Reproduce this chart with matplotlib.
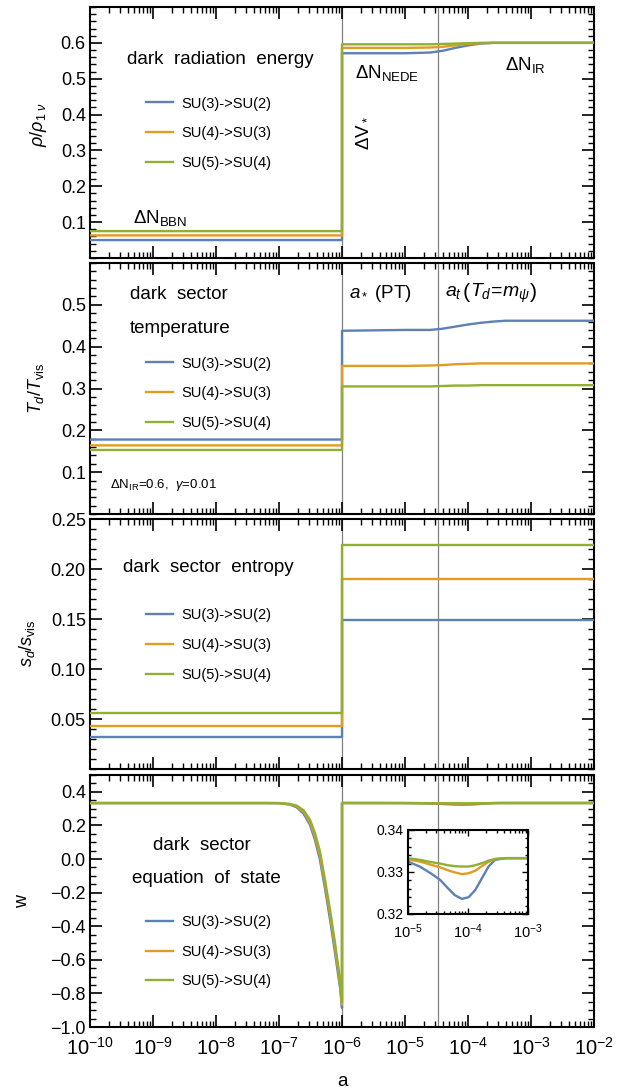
import numpy as np
import matplotlib
matplotlib.use('Agg')
import matplotlib.pyplot as plt
from matplotlib.ticker import FixedLocator, MultipleLocator, LogLocator, NullFormatter, FuncFormatter

plt.rcParams['font.family'] = ['Liberation Sans', 'DejaVu Sans']
plt.rcParams['mathtext.fontset'] = 'custom'
plt.rcParams['mathtext.rm'] = 'Liberation Sans'
plt.rcParams['mathtext.it'] = 'Liberation Sans:italic'
plt.rcParams['mathtext.bf'] = 'Liberation Sans:bold'

#series labels and colours
labels = ['SU(3)->SU(2)', 'SU(4)->SU(3)', 'SU(5)->SU(4)']
colors = ['#5e81b5', '#e19c24', '#8fb032']

#marker lines: phase transition and a_t
a_star = 1e-6
a_t = 3.4e-5

#panel 1: dark radiation energy (log10 a, rho/rho_1nu)
rho_exp = [-10, -6, -6, -5, -4.6, -4.4, -4.2, -4.0, -3.8, -3.6, -3.4, -2]
rho_blue = [0.050, 0.050, 0.571, 0.571, 0.573, 0.578, 0.586, 0.593, 0.598, 0.600, 0.600, 0.600]
rho_orange = [0.063, 0.063, 0.586, 0.586, 0.587, 0.589, 0.593, 0.597, 0.599, 0.600, 0.600, 0.600]
rho_green = [0.075, 0.075, 0.596, 0.596, 0.596, 0.597, 0.598, 0.599, 0.600, 0.600, 0.600, 0.600]

#panel 2: temperature ratio
T_exp = [-10, -6, -6, -5, -4.6, -4.4, -4.2, -4.0, -3.8, -3.6, -3.4, -2]
T_blue = [0.178, 0.178, 0.438, 0.440, 0.440, 0.443, 0.448, 0.453, 0.457, 0.460, 0.462, 0.462]
T_orange = [0.164, 0.164, 0.354, 0.354, 0.355, 0.356, 0.358, 0.359, 0.360, 0.360, 0.360, 0.360]
T_green = [0.153, 0.153, 0.305, 0.305, 0.305, 0.306, 0.307, 0.307, 0.308, 0.308, 0.308, 0.308]

#panel 3: entropy ratio
s_exp = [-10, -6, -6, -2]
s_blue = [0.0318, 0.0318, 0.149, 0.149]
s_orange = [0.0433, 0.0433, 0.190, 0.190]
s_green = [0.0557, 0.0557, 0.224, 0.224]

#panel 4: equation of state (drop before the PT, small dip after)
w_exp = [-10, -7.3, -7.0, -6.83, -6.72, -6.61, -6.51, -6.43, -6.35, -6.27, -6.19, -6.11, -6.03, -6.0,
         -6.0, -5.5, -5.0, -4.8, -4.63, -4.46, -4.33, -4.22, -4.10, -3.99, -3.88, -3.77, -3.66, -3.55,
         -3.36, -3.0, -2.0]
w_blue = [0.333, 0.333, 0.332, 0.324, 0.308, 0.270, 0.205, 0.115, -0.005, -0.175, -0.360, -0.560, -0.770, -0.887,
          0.3333, 0.3331, 0.3325, 0.3313, 0.3298, 0.3281, 0.3261, 0.3245, 0.3236, 0.3240, 0.3257, 0.3285,
          0.3313, 0.3329, 0.3333, 0.3333, 0.3333]
w_orange = [0.333, 0.333, 0.333, 0.326, 0.313, 0.280, 0.220, 0.135, 0.020, -0.150, -0.330, -0.530, -0.745, -0.865,
            0.3333, 0.3333, 0.3330, 0.3325, 0.3318, 0.3311, 0.3304, 0.3299, 0.3295, 0.3297, 0.3303, 0.3314,
            0.3324, 0.3331, 0.3333, 0.3333, 0.3333]
w_green = [0.333, 0.333, 0.333, 0.328, 0.318, 0.290, 0.235, 0.155, 0.045, -0.124, -0.303, -0.502, -0.721, -0.850,
           0.3333, 0.3333, 0.3333, 0.3329, 0.3324, 0.3320, 0.3316, 0.3314, 0.3313, 0.3313, 0.3316, 0.3321,
           0.3327, 0.3331, 0.3333, 0.3333, 0.3333]

#tick values
rho_ticks = [0.1, 0.2, 0.3, 0.4, 0.5, 0.6]
T_ticks = [0.1, 0.2, 0.3, 0.4, 0.5]
s_ticks = [0.05, 0.10, 0.15, 0.20, 0.25]
w_ticks = [-1.0, -0.8, -0.6, -0.4, -0.2, 0.0, 0.2, 0.4]
inset_yticks = [0.32, 0.33, 0.34]


def minus(fmt):
    return FuncFormatter(lambda v, p: (fmt % v).replace('-', '\u2212'))


def style(ax, ylim, ticks, minor, fmt, xlabels=False):
    ax.set_xscale('log')
    ax.set_xlim(1e-10, 1e-2)
    ax.set_ylim(*ylim)
    ax.yaxis.set_major_locator(FixedLocator(ticks))
    ax.yaxis.set_minor_locator(MultipleLocator(minor))
    ax.yaxis.set_major_formatter(minus(fmt))
    ax.xaxis.set_major_locator(LogLocator(base=10, numticks=20))
    ax.xaxis.set_minor_locator(LogLocator(base=10, subs=np.arange(2, 10), numticks=200))
    ax.xaxis.set_minor_formatter(NullFormatter())
    ax.tick_params(which='both', direction='in', top=True, right=True, width=1.2, color='black')
    ax.tick_params(which='major', length=8.5, labelsize=13, pad=3)
    ax.tick_params(which='minor', length=4.3, width=1.0)
    if not xlabels:
        ax.tick_params(axis='x', which='both', labelbottom=False)
    else:
        ax.tick_params(axis='x', which='major', labelsize=14.5, pad=7)
    for sp in ax.spines.values():
        sp.set_linewidth(1.5)
    ax.axvline(a_star, color='#808080', lw=0.9, zorder=1)
    ax.axvline(a_t, color='#808080', lw=0.9, zorder=1)


def draw(ax, xe, ys):
    x = 10.0 ** np.array(xe)
    lines = []
    for y, c in zip(ys, colors):
        l, = ax.plot(x, y, color=c, lw=1.7, zorder=3)
        lines.append(l)
    return lines


def legend(ax, lines, fy):
    ax.legend(lines, labels, loc='center left', bbox_to_anchor=(0.112, fy), frameon=False,
              fontsize=10.5, handlelength=1.8, handletextpad=0.6, labelspacing=1.08,
              borderpad=0, borderaxespad=0)


fig = plt.figure(figsize=(6.38, 10.92), dpi=100)
L, W = 90 / 638, 504 / 638
ax1 = fig.add_axes([L, 1 - 258 / 1092, W, 251 / 1092])
ax2 = fig.add_axes([L, 1 - 514 / 1092, W, 251 / 1092])
ax3 = fig.add_axes([L, 1 - 769 / 1092, W, 250 / 1092])
ax4 = fig.add_axes([L, 1 - 1027 / 1092, W, 252 / 1092])

#panel 1
style(ax1, (0, 0.7), rho_ticks, 0.02, '%.1f')
ln = draw(ax1, rho_exp, [rho_blue, rho_orange, rho_green])
legend(ax1, ln, 0.497)
ax1.set_ylabel(r'$\rho/\rho_{1\ \nu}$', fontsize=13, va='center')
ax1.yaxis.set_label_coords(-0.103, 0.53)
ax1.text(0.258, 0.789, 'dark  radiation  energy', transform=ax1.transAxes, ha='center', va='center', fontsize=13.5)
ax1.text(0.085, 0.159, r'ΔN$_{\rm BBN}$', transform=ax1.transAxes, ha='left', va='center', fontsize=13.5)
ax1.text(0.526, 0.737, r'ΔN$_{\rm NEDE}$', transform=ax1.transAxes, ha='left', va='center', fontsize=13.5)
ax1.text(0.823, 0.769, r'ΔN$_{\rm IR}$', transform=ax1.transAxes, ha='left', va='center', fontsize=13.5)
ax1.text(0.539, 0.498, r'ΔV$_*$', transform=ax1.transAxes, ha='center', va='center', fontsize=13.5, rotation=90)

#panel 2
style(ax2, (0, 0.6), T_ticks, 0.02, '%.1f')
ln = draw(ax2, T_exp, [T_blue, T_orange, T_green])
legend(ax2, ln, 0.481)
ax2.set_ylabel(r'$T_d/T_{\rm vis}$', fontsize=13, va='center')
ax2.yaxis.set_label_coords(-0.107, 0.5)
ax2.text(0.079, 0.873, 'dark  sector', transform=ax2.transAxes, ha='left', va='center', fontsize=13.5)
ax2.text(0.079, 0.741, 'temperature', transform=ax2.transAxes, ha='left', va='center', fontsize=13.5)
ax2.text(0.040, 0.116, r'ΔN$_{\rm IR}$=0.6,  $\gamma$=0.01', transform=ax2.transAxes, ha='left', va='center', fontsize=9.5)
ax2.text(0.514, 0.880, r'$a_*$ (PT)', transform=ax2.transAxes, ha='left', va='center', fontsize=13.5)
ax2.text(0.704, 0.880, r'$a_t\,\left(T_d\!=\!m_\psi\right)$', transform=ax2.transAxes, ha='left', va='center', fontsize=14)

#panel 3
style(ax3, (0, 0.25), s_ticks, 0.01, '%.2f')
ln = draw(ax3, s_exp, [s_blue, s_orange, s_green])
legend(ax3, ln, 0.496)
ax3.set_ylabel(r'$s_d/s_{\rm vis}$', fontsize=13, va='center')
ax3.yaxis.set_label_coords(-0.125, 0.504)
ax3.text(0.065, 0.808, 'dark  sector  entropy', transform=ax3.transAxes, ha='left', va='center', fontsize=13.5)

#panel 4
style(ax4, (-1.0, 0.5), w_ticks, 0.05, '%.1f', xlabels=True)
ln = draw(ax4, w_exp, [w_blue, w_orange, w_green])
legend(ax4, ln, 0.299)
ax4.set_ylabel('w', fontsize=13, va='center')
ax4.yaxis.set_label_coords(-0.133, 0.497)
ax4.text(0.2216, 0.722, 'dark  sector', transform=ax4.transAxes, ha='center', va='center', fontsize=13.5)
ax4.text(0.230, 0.591, 'equation  of  state', transform=ax4.transAxes, ha='center', va='center', fontsize=13.5)
fig.text(342 / 638, 1 - 1081.7 / 1092, 'a', ha='center', va='center', fontsize=13.5)

#inset of w around a_t
axi = fig.add_axes([407.7 / 638, 1 - 914 / 1092, 120.6 / 638, 84 / 1092])
axi.set_facecolor('none')
xi = 10.0 ** np.array(w_exp)
for y, c in zip([w_blue, w_orange, w_green], colors):
    axi.plot(xi, y, color=c, lw=1.7)
axi.set_xscale('log')
axi.set_xlim(1e-5, 1e-3)
axi.set_ylim(0.32, 0.34)
axi.yaxis.set_major_locator(FixedLocator(inset_yticks))
axi.yaxis.set_minor_locator(MultipleLocator(0.002))
axi.yaxis.set_major_formatter(minus('%.2f'))
axi.xaxis.set_major_locator(LogLocator(base=10, numticks=10))
axi.xaxis.set_minor_locator(LogLocator(base=10, subs=np.arange(2, 10), numticks=100))
axi.xaxis.set_minor_formatter(NullFormatter())
axi.tick_params(which='both', direction='in', top=True, right=True, width=1.0)
axi.tick_params(which='major', length=4, labelsize=10, pad=3)
axi.tick_params(axis='x', which='major', labelsize=10.5, pad=6)
axi.tick_params(which='minor', length=2)
for sp in axi.spines.values():
    sp.set_linewidth(1.5)

fig.savefig('out.png', dpi=100)
